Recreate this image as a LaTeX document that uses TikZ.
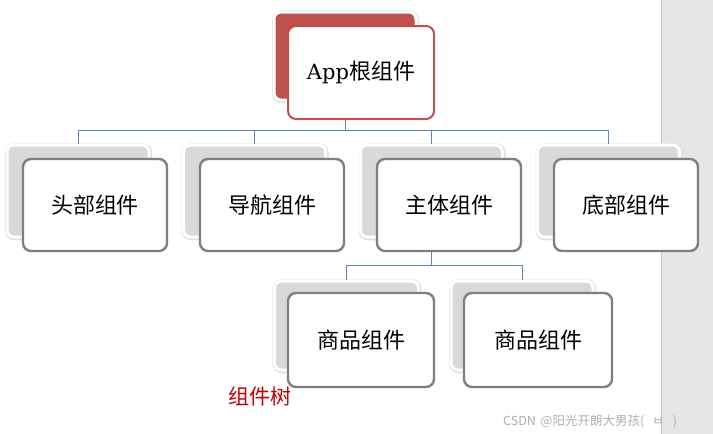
\documentclass[tikz,border=0pt]{standalone}
\usepackage{fontspec}
\setmainfont{Noto Sans CJK SC}
\newfontfamily\appfont{DejaVu Serif}
\usetikzlibrary{calc}
\definecolor{rootred}{HTML}{C0504D}
\definecolor{backgray}{HTML}{D9D9D9}
\definecolor{frontgray}{HTML}{7F7F7F}
\definecolor{linkblue}{HTML}{5F84B8}
\definecolor{panel}{HTML}{E6E6E6}
\definecolor{panelline}{HTML}{C4C4C4}
\definecolor{titlered}{HTML}{C00000}
\definecolor{wmgray}{HTML}{B0B0B0}
\tikzset{
  backbox/.style={draw=white, line width=3pt, rounded corners=7pt, fill=backgray, inner sep=0pt,
    preaction={draw=black!12, line width=5pt, transform canvas={xshift=0.6pt,yshift=-0.8pt}}},
  rootback/.style={backbox, fill=rootred},
  frontbox/.style={draw=frontgray, line width=2.4pt, rounded corners=8pt, fill=white, inner sep=0pt,
    font=\fontsize{22}{24}\selectfont},
  rootfront/.style={frontbox, draw=rootred, line width=2pt},
  link/.style={draw=linkblue, line width=0.9pt},
}
\begin{document}
\begin{tikzpicture}[x=1pt,y=-1pt]
\useasboundingbox (0,0) rectangle (713,434);
\fill[white] (0,0) rectangle (713,434);
\fill[panel] (661,0) rectangle (713,434);
\draw[panelline, line width=1pt] (661,0) -- (661,434);

% root
\node[rootback, minimum width=142pt, minimum height=88pt] (rootb) at (345,56) {};
\node[rootfront, minimum width=146pt, minimum height=93pt] (root) at (361,72.5) {{\appfont\fontsize{21}{24}\selectfont App}根组件};

% level 2
\foreach \n/\bx in {h/78, d/254.5, m/431.5, f/608.5}{
  \node[backbox, minimum width=142pt, minimum height=92pt] (\n b) at (\bx,191) {};
}
\foreach \n/\fx/\t in {h/95/头部组件, d/272/导航组件, m/449/主体组件, f/626/底部组件}{
  \node[frontbox, minimum width=144pt, minimum height=92pt] (\n) at (\fx,205) {\t};
}

% level 3
\node[backbox, minimum width=144pt, minimum height=89pt] (p1b) at (346.5,325.5) {};
\node[backbox, minimum width=142pt, minimum height=89pt] (p2b) at (522,325.5) {};
\node[frontbox, minimum width=146pt, minimum height=94pt] (p1) at (361,340) {商品组件};
\node[frontbox, minimum width=148pt, minimum height=94pt] (p2) at (538,340) {商品组件};

% connectors
\coordinate (bus1) at (0,130);
\coordinate (bus2) at (0,265);
\foreach \c in {hb,db,mb,fb}{
  \draw[link] (rootb.center |- root.south) -- (rootb.center |- bus1) -| (\c.north);
}
\foreach \c in {p1b,p2b}{
  \draw[link] (mb.center |- m.south) -- (mb.center |- bus2) -| (\c.north);
}

% caption
\node[text=titlered, font=\fontsize{21}{23}\selectfont, inner sep=0pt] (cap) at (260,397) {组件树};
\node[text=wmgray, font=\fontsize{12.5}{14}\selectfont, inner sep=0pt, anchor=west] (wm) at (503,421) {CSDN\hspace{2pt} @阳光开朗大男孩(\hspace{8pt}ㅂ\hspace{9pt})};
\end{tikzpicture}
\end{document}
